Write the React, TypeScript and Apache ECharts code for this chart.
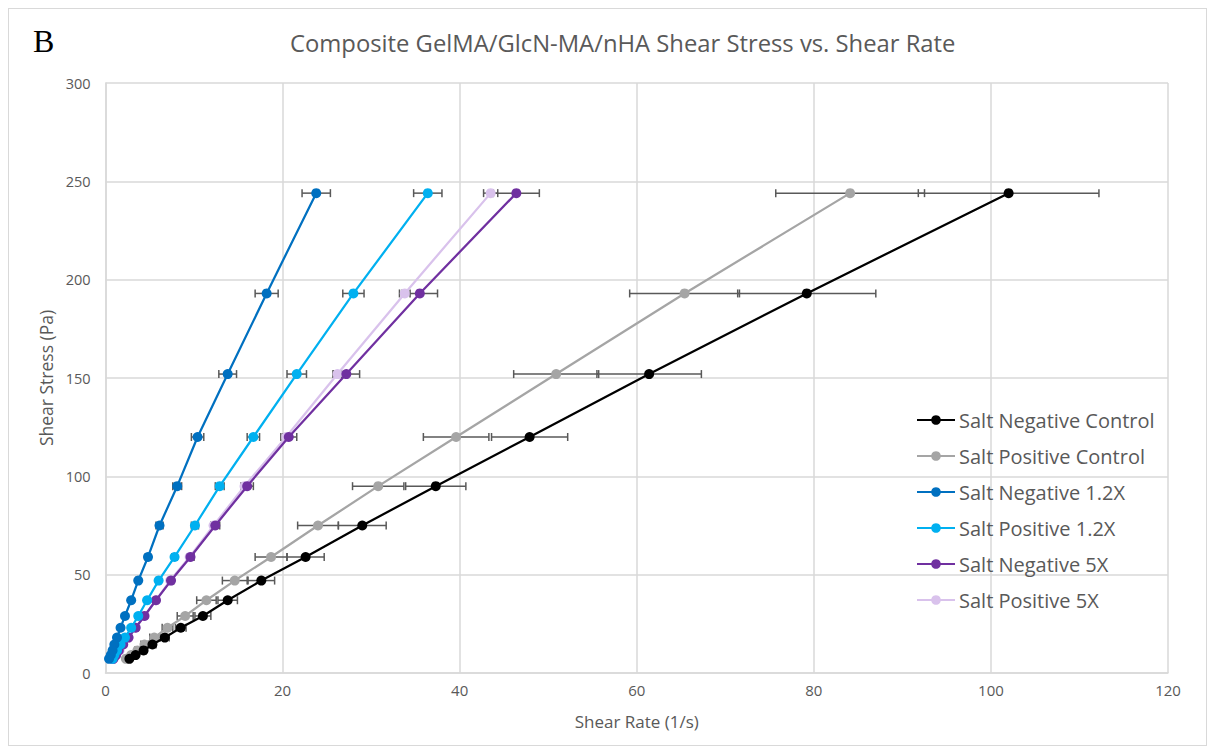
import React, { useEffect, useRef } from "react";
import * as echarts from "echarts";

const seriesNames = [
  "Salt Negative Control",
  "Salt Positive Control",
  "Salt Negative 1.2X",
  "Salt Positive 1.2X",
  "Salt Negative 5X",
  "Salt Positive 5X",
];
const seriesColors = ["#000000", "#A5A5A5", "#0070C0", "#00B0F0", "#7030A0", "#D9C2EC"];

// Shear stress levels (Pa)
const stress = [244, 193, 152, 120, 95, 75, 59, 47, 37, 29, 23, 18, 14.5, 11.5, 9.1, 7.2];

// Shear rates (1/s)
const negControl = [102.0, 79.2, 61.4, 47.9, 37.3, 29.0, 22.6, 17.6, 13.8, 11.0, 8.5, 6.7, 5.3, 4.3, 3.4, 2.7];
const posControl = [84.1, 65.4, 50.9, 39.6, 30.8, 24.0, 18.7, 14.6, 11.4, 9.0, 7.0, 5.5, 4.4, 3.6, 2.9, 2.3];
const neg12 = [23.8, 18.2, 13.8, 10.4, 8.1, 6.1, 4.8, 3.7, 2.9, 2.2, 1.7, 1.3, 1.0, 0.8, 0.6, 0.4];
const pos12 = [36.4, 28.0, 21.6, 16.7, 12.9, 10.1, 7.8, 6.0, 4.7, 3.7, 2.9, 2.2, 1.7, 1.3, 1.0, 0.8];
const neg5 = [46.4, 35.5, 27.2, 20.7, 16.0, 12.4, 9.6, 7.4, 5.7, 4.4, 3.4, 2.6, 2.0, 1.5, 1.2, 0.9];
const pos5 = [43.5, 33.8, 26.2, 20.4, 15.7, 12.2, 9.5, 7.3, 5.7, 4.4, 3.4, 2.6, 2.0, 1.6, 1.2, 0.9];

// Horizontal error (± shear rate)
const negControlErr = [10.2, 7.8, 5.9, 4.3, 3.4, 2.7, 2.1, 1.5, 1.1, 0.9, 0.6, 0.5, 0.4, 0.3, 0.25, 0.2];
const posControlErr = [8.4, 6.2, 4.8, 3.7, 2.9, 2.3, 1.8, 1.4, 1.1, 0.9, 0.6, 0.5, 0.4, 0.3, 0.25, 0.2];
const neg12Err = [1.6, 1.3, 1.0, 0.7, 0.5, 0.4, 0.3, 0.25, 0.2, 0.15, 0.1, 0.1, 0.1, 0.1, 0.1, 0.1];
const pos12Err = [1.6, 1.2, 1.1, 0.7, 0.5, 0.4, 0.3, 0.25, 0.2, 0.15, 0.1, 0.1, 0.1, 0.1, 0.1, 0.1];
const neg5Err = [2.6, 2.0, 1.5, 0.9, 0.7, 0.5, 0.4, 0.3, 0.25, 0.2, 0.15, 0.1, 0.1, 0.1, 0.1, 0.1];
const pos5Err = [0.8, 0.6, 0.45, 0.35, 0.3, 0.25, 0.2, 0.15, 0.1, 0.1, 0.1, 0.1, 0.1, 0.1, 0.1, 0.1];

const xValues = [negControl, posControl, neg12, pos12, neg5, pos5];
const xErrors = [negControlErr, posControlErr, neg12Err, pos12Err, neg5Err, pos5Err];

const FONT = "'Open Sans', 'Noto Sans', sans-serif";
const TEXT_COLOR = "#595959";

export default function App() {
  const ref = useRef<HTMLDivElement>(null);

  useEffect(() => {
    if (!ref.current) return;
    const chart = echarts.init(ref.current, undefined, { renderer: "svg" });

    const errorSeries = xValues.map((xs, si) => ({
      type: "custom",
      name: "err" + si,
      z: 1,
      silent: true,
      encode: { x: 0, y: 1 },
      data: xs.map((x, i) => [x, stress[i], xErrors[si][i]]),
      renderItem: (params: any, api: any) => {
        const x = api.value(0);
        const y = api.value(1);
        const e = api.value(2);
        const p1 = api.coord([x - e, y]);
        const p2 = api.coord([x + e, y]);
        const h = 4;
        const style = { stroke: "#595959", lineWidth: 1.5 };
        return {
          type: "group",
          children: [
            { type: "line", shape: { x1: p1[0], y1: p1[1], x2: p2[0], y2: p2[1] }, style },
            { type: "line", shape: { x1: p1[0], y1: p1[1] - h, x2: p1[0], y2: p1[1] + h }, style },
            { type: "line", shape: { x1: p2[0], y1: p2[1] - h, x2: p2[0], y2: p2[1] + h }, style },
          ],
        };
      },
    }));

    const lineSeries = xValues.map((xs, si) => ({
      type: "line",
      name: seriesNames[si],
      z: 3 + (5 - si) * 0.1,
      data: xs.map((x, i) => [x, stress[i]]),
      symbol: "circle",
      symbolSize: 10,
      showSymbol: true,
      lineStyle: { color: seriesColors[si], width: 2.25 },
      itemStyle: { color: seriesColors[si] },
      emphasis: { disabled: true },
    }));

    chart.setOption({
      animation: false,
      textStyle: { fontFamily: FONT },
      title: {
        text: "Composite GelMA/GlcN-MA/nHA Shear Stress vs. Shear Rate",
        left: 276,
        top: 17,
        textStyle: { fontFamily: FONT, fontSize: 23.8, fontWeight: "normal", color: TEXT_COLOR },
      },
      graphic: [
        {
          type: "text",
          left: 24,
          top: 16,
          style: {
            text: "B",
            font: "32px 'Liberation Serif', 'DejaVu Serif', serif",
            fill: "#000000",
          },
        },
      ],
      legend: {
        orient: "vertical",
        left: 902,
        top: 396,
        itemWidth: 38,
        itemHeight: 12,
        itemGap: 16,
        data: seriesNames,
        textStyle: { fontFamily: FONT, fontSize: 20, lineHeight: 20, color: TEXT_COLOR, padding: [0, 0, 0, -1] },
      },
      grid: { left: 96.5, right: 38, top: 74, bottom: 72 },
      xAxis: {
        type: "value",
        min: 0,
        max: 120,
        interval: 20,
        name: "Shear Rate (1/s)",
        nameLocation: "middle",
        nameGap: 40,
        nameTextStyle: { fontFamily: FONT, fontSize: 17, color: TEXT_COLOR },
        axisLine: { show: true, lineStyle: { color: "#D9D9D9", width: 1.5 } },
        axisTick: { show: false },
        axisLabel: { fontFamily: FONT, fontSize: 15, color: TEXT_COLOR, margin: 9 },
        splitLine: { show: true, lineStyle: { color: "#D9D9D9", width: 1.5 } },
      },
      yAxis: {
        type: "value",
        min: 0,
        max: 300,
        interval: 50,
        name: "Shear Stress (Pa)",
        nameLocation: "middle",
        nameGap: 50,
        nameTextStyle: { fontFamily: FONT, fontSize: 17.5, color: TEXT_COLOR },
        axisLine: { show: true, lineStyle: { color: "#D9D9D9", width: 1.5 } },
        axisTick: { show: false },
        axisLabel: { fontFamily: FONT, fontSize: 14.5, color: TEXT_COLOR, margin: 15 },
        splitLine: { show: true, lineStyle: { color: "#D9D9D9", width: 1.5 } },
      },
      series: [...errorSeries, ...lineSeries],
    });

    return () => chart.dispose();
  }, []);

  return (
    <div
      ref={ref}
      style={{
        width: 1199,
        height: 738,
        border: "1px solid #D9D9D9",
        boxSizing: "border-box",
        background: "#ffffff",
      }}
    />
  );
}
